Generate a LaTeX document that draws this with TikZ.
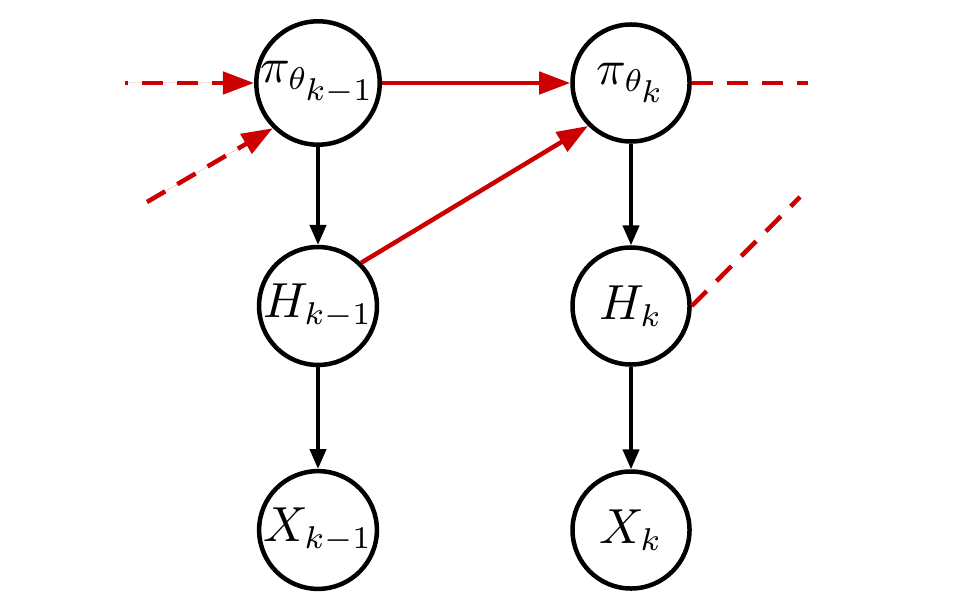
\documentclass[tikz,border=0pt]{standalone}
\usetikzlibrary{arrows.meta}
\definecolor{edgered}{RGB}{204,0,0}
\begin{document}
\begin{tikzpicture}[x=0.2222pt,y=-0.2222pt,
  var/.style={circle,draw=black,line width=1pt,minimum size=26pt,inner sep=0pt,fill=white,font=\fontsize{10.5}{12}\selectfont},
  blackarrow/.style={line width=0.75pt,-{Triangle[length=4.4pt,width=3.6pt]}},
  redarrow/.style={draw=edgered,line width=1pt,-{Triangle[length=6.9pt,width=4.9pt]},color=edgered},
  reddash/.style={draw=edgered,line width=1pt,dash pattern=on 4.7pt off 3.1pt}]
\useasboundingbox (0,0) rectangle (960,600);
\node[var] (pikm1) at (318,83) {$\pi_{\theta_{\scriptstyle k-1}}$};
\node[var] (pik) at (631,83) {$\pi_{\theta_{\scriptstyle k}}$};
\node[var] (Hkm1) at (318,306) {$H_{k-1}$};
\node[var] (Hk) at (631,306) {$H_k$};
\node[var] (Xkm1) at (318,530) {$X_{k-1}$};
\node[var] (Xk) at (631,530) {$X_k$};
\coordinate (inA) at (125,83);
\coordinate (inB) at (147,202);
\coordinate (outA) at (808,83);
\coordinate (outB) at (800,197);
\draw[blackarrow] (pikm1) -- (Hkm1);
\draw[blackarrow] (Hkm1) -- (Xkm1);
\draw[blackarrow] (pik) -- (Hk);
\draw[blackarrow] (Hk) -- (Xk);
\draw[redarrow] (pikm1.east) -- (pik.west);
\draw[redarrow] (Hkm1.45) -- (pik.225);
\draw[reddash,dash phase=4pt,-{Triangle[length=6.9pt,width=4.9pt]},fill=edgered] (inA) -- (pikm1.west);
\draw[reddash,-{Triangle[length=6.9pt,width=4.9pt]},fill=edgered] (inB) -- (pikm1.225);
\draw[reddash] (pik.east) -- (outA);
\draw[reddash] (Hk.east) -- (outB);
\end{tikzpicture}
\end{document}
